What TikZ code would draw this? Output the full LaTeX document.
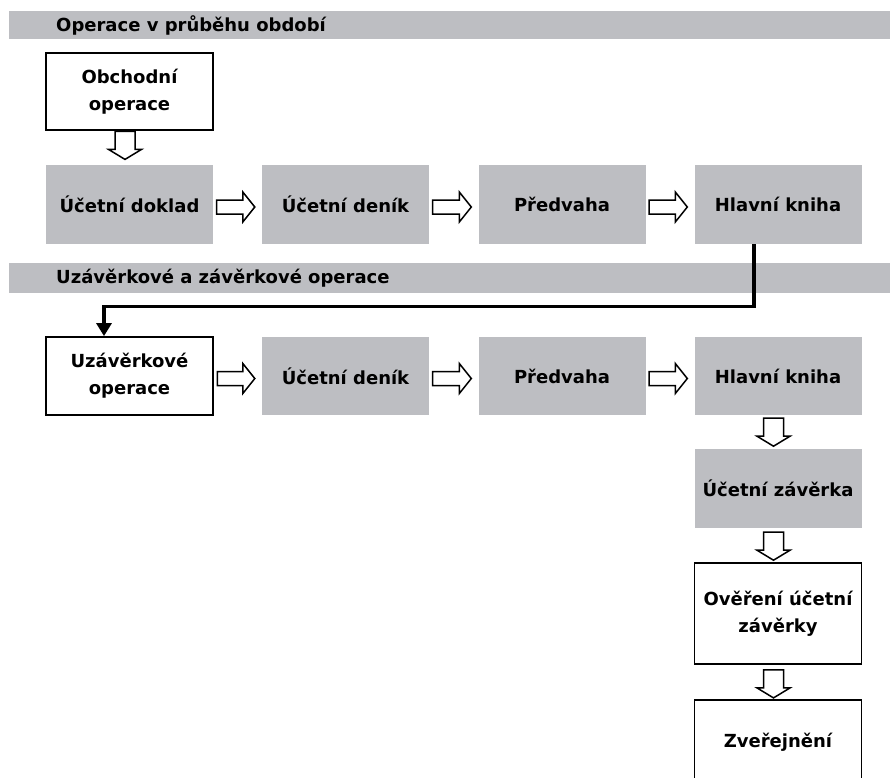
\documentclass[tikz,border=0pt]{standalone}
\usepackage{fontspec}
\setmainfont{DejaVu Sans}
\usetikzlibrary{calc,arrows.meta}
\definecolor{boxgray}{RGB}{189,190,194}
\tikzset{
  lbl/.style={font=\fontsize{18}{27}\selectfont\bfseries, align=center, text=black},
  graybox/.style={lbl, fill=boxgray, minimum width=167pt, inner sep=0pt},
  whitebox/.style={lbl, draw=black, line width=1.8pt, fill=white, minimum width=167pt, inner sep=0pt},
  barfill/.style={fill=boxgray},
  bartext/.style={font=\fontsize{18}{22}\selectfont\bfseries, anchor=west, inner sep=0pt},
  blk/.style={draw=black, fill=white, line width=1.5pt, line join=miter},
  conn/.style={line width=3.2pt, -{Triangle[width=15pt,length=13pt]}},
}
% horizontal block arrow between two named nodes
\newcommand\blockR[2]{%
  \draw[blk] let \p1=($(#1.east)+(3.5,2.5)$), \p2=($(#2.west)+(-7,0)$) in
  (\x1,\y1+7pt) -- (\x2-12pt,\y1+7pt) -- (\x2-12pt,\y1+15pt) -- (\x2,\y1)
  -- (\x2-12pt,\y1-15pt) -- (\x2-12pt,\y1-7pt) -- (\x1,\y1-7pt) -- cycle;}
% vertical block arrow below a named node (gap, source)
\newcommand\blockD[2]{%
  \draw[blk] let \p1=($(#2.south)+(-4.5,#1)$) in
  (\x1-10pt,\y1) -- (\x1+10pt,\y1) -- (\x1+10pt,\y1-18pt) -- (\x1+16.5pt,\y1-18pt)
  -- (\x1,\y1-28pt) -- (\x1-16.5pt,\y1-18pt) -- (\x1-10pt,\y1-18pt) -- cycle;}
\begin{document}
\begin{tikzpicture}[x=1pt,y=-1pt]
\useasboundingbox (0,0) rectangle (890,777);
\clip (0,0) rectangle (890,777);
\fill[white] (0,0) rectangle (890,777);

% section bars
\fill[barfill] (9,11) rectangle (890,39);
\node[bartext] (bar1) at (56,25.5) {Operace v průběhu období};
\fill[barfill] (9,263) rectangle (890,293);
\node[bartext] (bar2) at (56,278.5) {Uzávěrkové a závěrkové operace};

% first section
\node[whitebox, minimum height=77pt] (ob) at (129.5,91.5) {Obchodní\\operace};
\node[graybox, minimum height=79pt] (ud) at (129.5,204.5) {Účetní doklad};
\node[graybox, minimum height=79pt] (den1) at (345.5,204.5) {Účetní deník};
\node[graybox, minimum height=79pt] (pre1) at (562,204.5) {Předvaha};
\node[graybox, minimum height=79pt] (hk1) at (778,204.5) {Hlavní kniha};

% second section
\node[whitebox, minimum height=78pt] (uz) at (129.5,376) {Uzávěrkové\\operace};
\node[graybox, minimum height=78pt] (den2) at (345.5,376) {Účetní deník};
\node[graybox, minimum height=78pt] (pre2) at (562,376) {Předvaha};
\node[graybox, minimum height=78pt] (hk2) at (778,376) {Hlavní kniha};
\node[graybox, minimum height=79pt] (zav) at (778,488.5) {Účetní závěrka};
\node[whitebox, minimum height=101pt] (ov) at (778,613.5) {Ověření účetní\\závěrky};
\node[whitebox, minimum height=84pt] (zv) at (778,742) {Zveřejnění};

% block arrows
\blockD{0.5}{ob}
\blockR{ud}{den1}
\blockR{den1}{pre1}
\blockR{pre1}{hk1}
\blockR{uz}{den2}
\blockR{den2}{pre2}
\blockR{pre2}{hk2}
\blockD{3}{hk2}
\blockD{4}{zav}
\blockD{5}{ov}

% connector between sections
\draw[conn] ([xshift=-24pt]hk1.south) -- ++(0,62) -| ([xshift=-25.5pt]uz.north);
\end{tikzpicture}
\end{document}
